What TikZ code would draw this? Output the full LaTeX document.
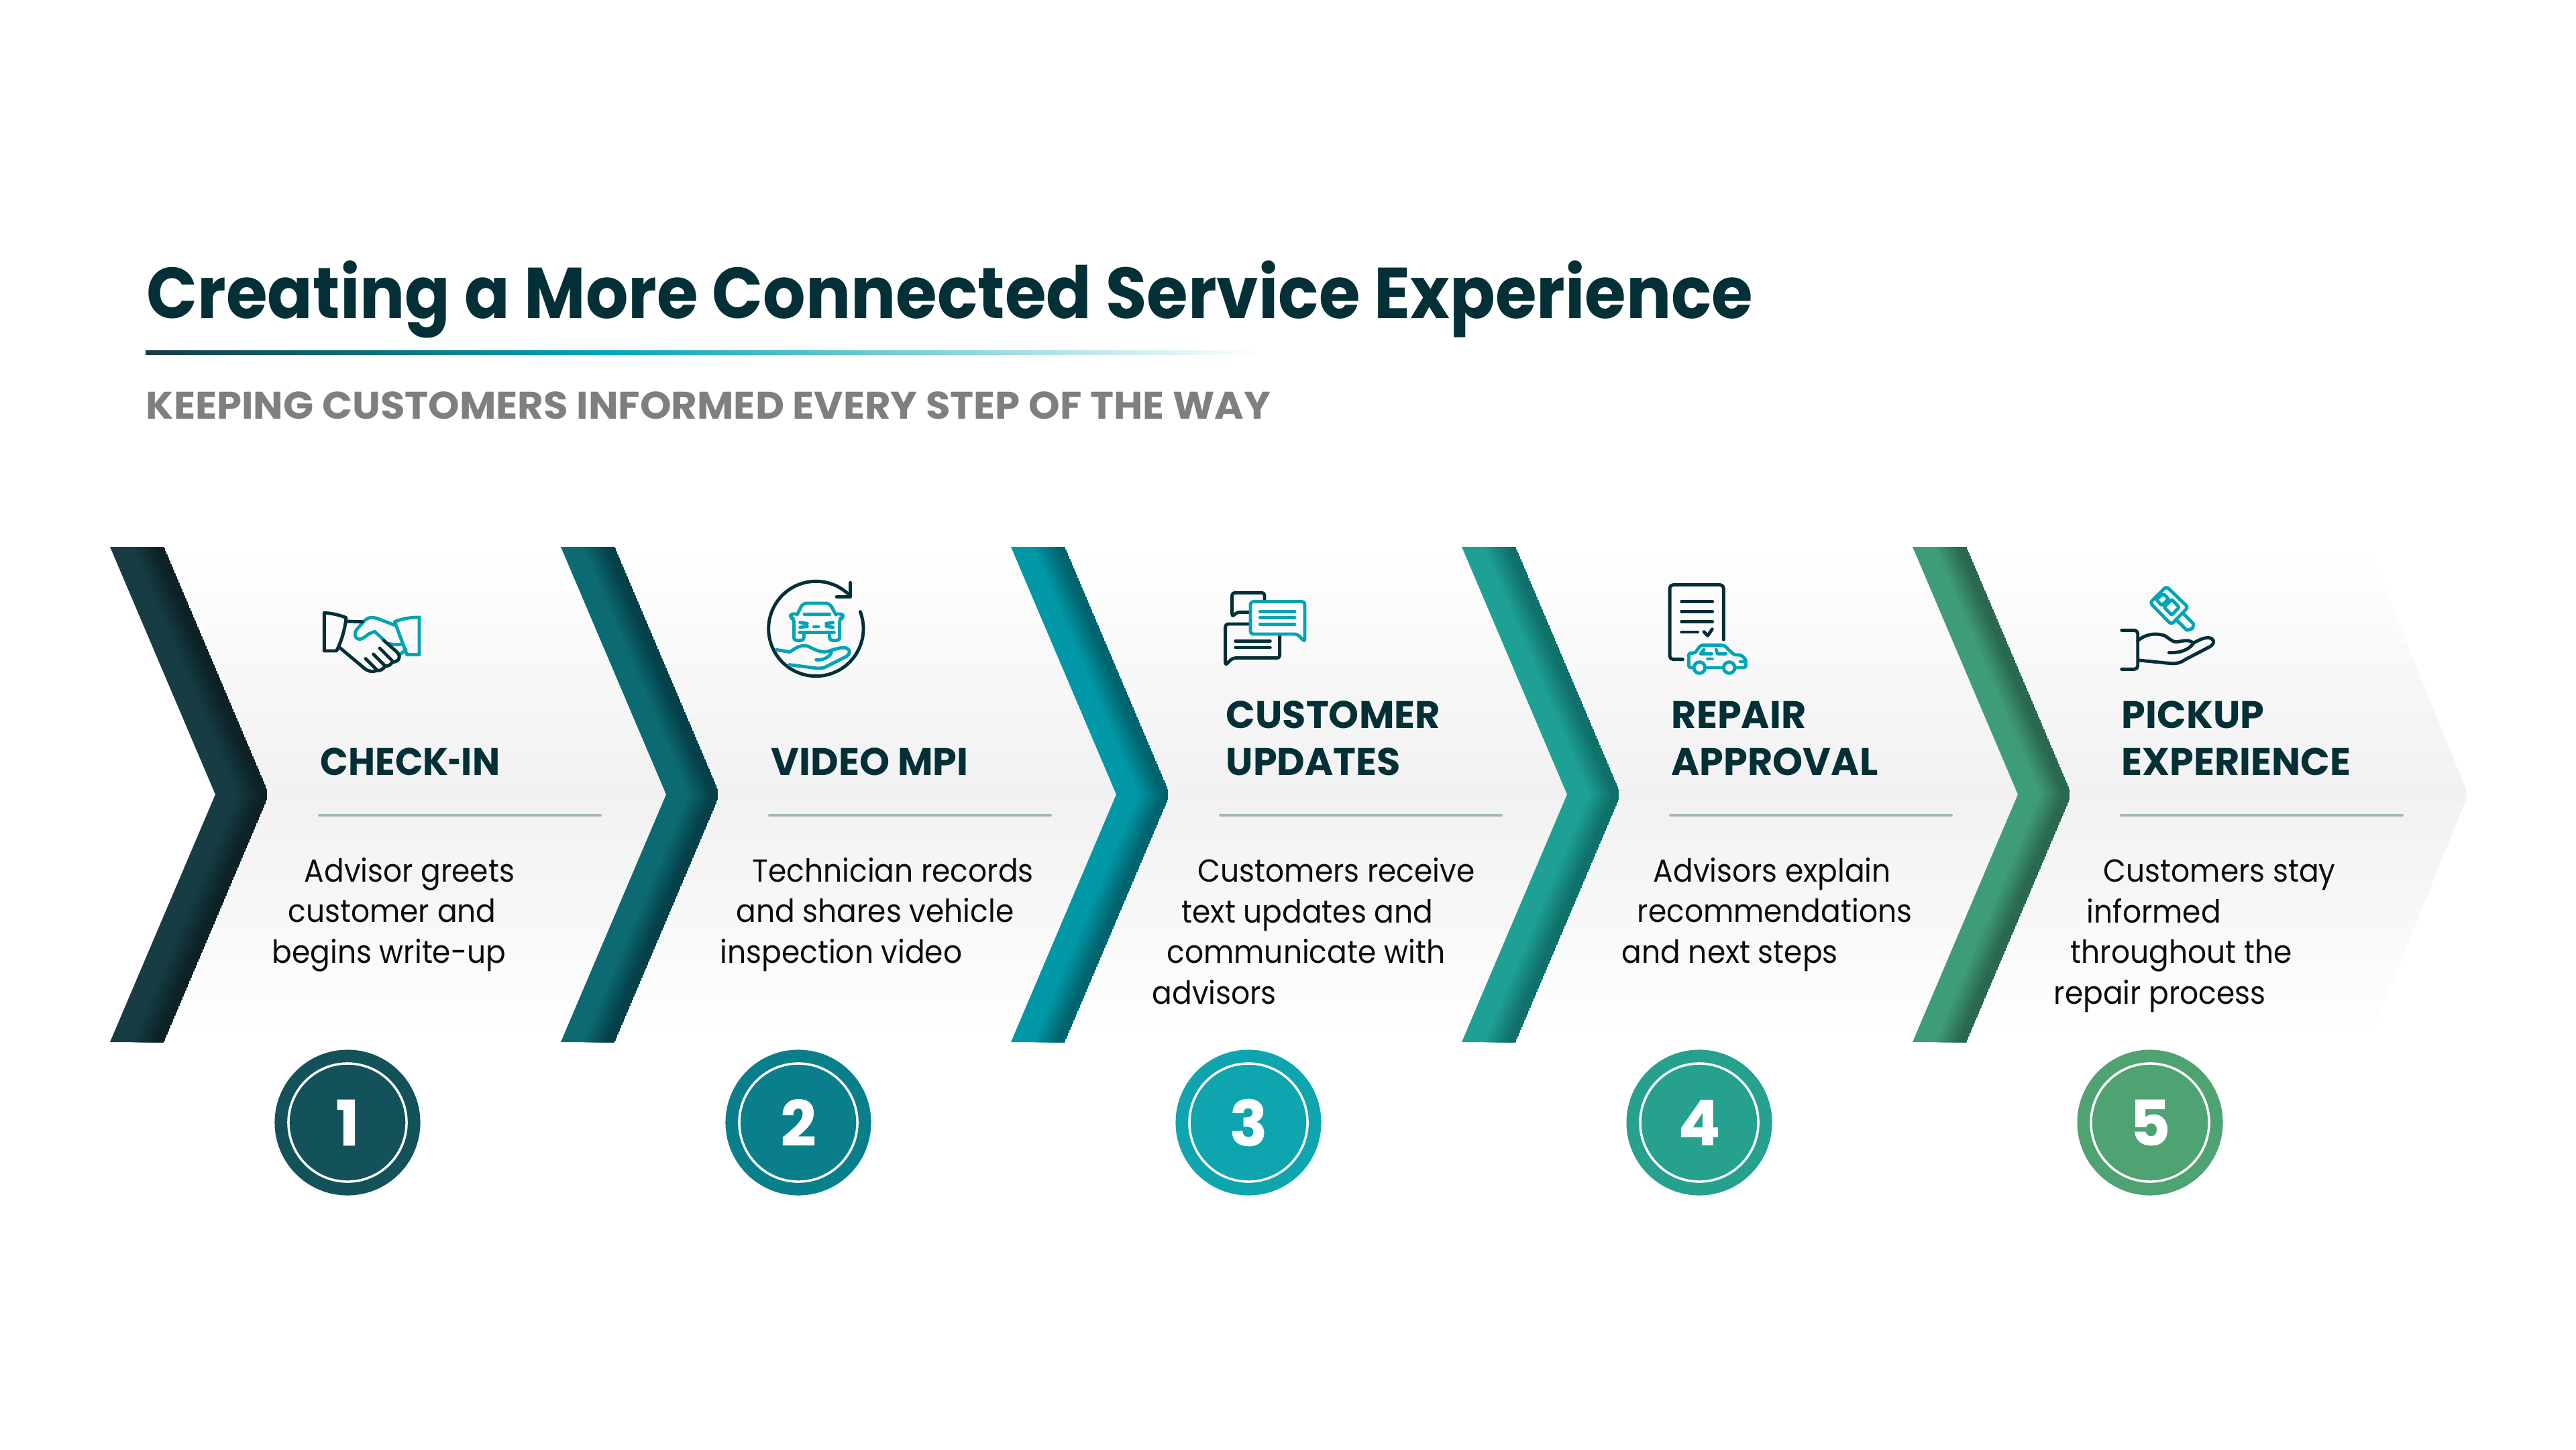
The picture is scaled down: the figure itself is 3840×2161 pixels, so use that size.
\documentclass[tikz,border=0pt]{standalone}
\usepackage{fontspec}
\setmainfont{Poppins}
\newfontfamily\titlefont[FakeStretch=0.93]{Poppins}
\newfontfamily\subfont[FakeStretch=1.035]{Poppins}
\newfontfamily\bodyfont[FakeStretch=0.925]{Poppins}
\newfontfamily\checkfont[FakeStretch=0.955]{Poppins}
\newfontfamily\digitfont[BoldFeatures={FakeBold=0.6}]{Poppins}
\definecolor{ink}{HTML}{032F36}
\definecolor{teal}{HTML}{00A5B5}
\definecolor{rulec}{HTML}{A3B7B7}
\definecolor{subc}{HTML}{7F7F7F}
\definecolor{c1a}{HTML}{173C44}\definecolor{c1c}{HTML}{0C2226}
\definecolor{c2a}{HTML}{0B6A72}\definecolor{c2c}{HTML}{064048}
\definecolor{c3a}{HTML}{0097A7}\definecolor{c3c}{HTML}{00646E}
\definecolor{c4a}{HTML}{1EA094}\definecolor{c4c}{HTML}{10706A}
\definecolor{c5a}{HTML}{3F9C78}\definecolor{c5c}{HTML}{2A6850}
\definecolor{n1}{HTML}{13525A}\definecolor{n2}{HTML}{0A7F8C}\definecolor{n3}{HTML}{0FA5AE}
\definecolor{n4}{HTML}{25A18E}\definecolor{n5}{HTML}{4FA272}
\newcommand{\chev}[3]{%
 \begin{scope}
 \clip (#1,815) -- ({#1+80},815) [rounded corners=0.14cm] -- ({#1+237},1184) [sharp corners] -- ({#1+80},1553) -- (#1,1553) [rounded corners=0.14cm] -- ({#1+157},1184) [sharp corners] -- cycle;
 \fill[#2] (#1,815) -- ({#1+80},815) -- ({#1+237},1184) -- ({#1+80},1553) -- (#1,1553) -- ({#1+157},1184) -- cycle;
 \foreach \k in {16,...,39}{
  \pgfmathsetmacro\off{\k*2}
  \pgfmathsetmacro\pb{min((\k-16)/18,1)*100}
  \colorlet{tmpc}{#3!\pb!#2}
  \fill[tmpc] ({#1+\off},815) -- ({#1+80},815) -- ({#1+237},1184) -- ({#1+157+\off},1184) -- cycle;
  \fill[tmpc] ({#1+\off},1553) -- ({#1+80},1553) -- ({#1+237},1184) -- ({#1+157+\off},1184) -- cycle;
 }
 \end{scope}}
\tikzset{
 head/.style={anchor=base west,inner sep=0pt,align=left,text=ink,font=\fontsize{16.3}{19.9}\selectfont\bfseries},
 body/.style={anchor=base west,inner sep=0pt,align=left,text=black!95,font=\bodyfont\fontsize{13.5}{17.2}\selectfont},
 numc/.style={circle,inner sep=0pt,minimum size=2.17cm,text=white,font=\digitfont\fontsize{26.5}{30}\selectfont\bfseries},
 ring/.style={circle,draw=white,line width=1pt,inner sep=0pt,minimum size=1.76cm},
 stepline/.style={draw=rulec,line width=1.1pt,line cap=round},
 dk/.style={draw=ink,line width=1.4pt,line cap=round,line join=round},
 tl/.style={draw=teal,line width=1.4pt,line cap=round,line join=round},
 iconscale/.style={scale=0.33333}
}
\newcommand{\ind}[1]{\hspace*{#1cm}}
\begin{document}
\begin{tikzpicture}[x=0.01cm,y=-0.01cm]
\useasboundingbox[fill=white] (0,0) rectangle (3840,2161);
% background arrow
\shade[top color=white,bottom color=white,middle color=black!5.5,rounded corners=0.1cm]
 (200,815) -- (3530,815) -- (3679,1184) -- (3530,1553) -- (200,1553) -- (323,1184) -- cycle;
% chevrons
\chev{164}{c1a}{c1c}
\chev{836}{c2a}{c2c}
\chev{1507}{c3a}{c3c}
\chev{2179}{c4a}{c4c}
\chev{2851}{c5a}{c5c}
% title
\node[anchor=base west,inner sep=0pt,text=ink,font=\titlefont\fontsize{30.5}{36}\selectfont\bfseries] (title) at (218,474) {Creating a More Connected Service Experience};
\shade[left color=c1a,right color=teal] (217,522) rectangle (892,528);
\shade[left color=teal,right color=white] (892,522) rectangle (1880,528);
\node[anchor=base west,inner sep=0pt,text=subc,font=\subfont\fontsize{16.3}{20}\selectfont\bfseries] (subtitle) at (217,624) {KEEPING CUSTOMERS INFORMED EVERY STEP OF THE WAY};
% headings
\node[head] (h1) at (477,1155) {\checkfont\bfseries CHECK\scalebox{0.6}[1]{-}IN};
\node[head] (h2) at (1149,1155) {VIDEO MPI};
\node[head] (h3) at (1827,1155) {CUSTOMER\\UPDATES};
\node[head] (h4) at (2491,1155) {REPAIR\\APPROVAL};
\node[head] (h5) at (3162,1155) {PICKUP\\EXPERIENCE};
% rules
\coordinate (r1a) at (476,1215);\coordinate (r1b) at (895,1215);
\coordinate (r2a) at (1147,1215);\coordinate (r2b) at (1566,1215);
\coordinate (r3a) at (1819,1215);\coordinate (r3b) at (2238,1215);
\coordinate (r4a) at (2490,1215);\coordinate (r4b) at (2909,1215);
\coordinate (r5a) at (3162,1215);\coordinate (r5b) at (3581,1215);
\foreach \i in {1,...,5}{\draw[stepline] (r\i a) -- (r\i b);}
% body
\node[body] (b1) at (405,1435) {\ind{0.48}Advisor greets\\\ind{0.24}customer and\\begins write-up};
\node[body] (b2) at (1073,1435) {\ind{0.48}Technician records\\\ind{0.24}and shares vehicle\\inspection video};
\node[body] (b3) at (1717,1496) {\ind{0.68}Customers receive\\\ind{0.44}text updates and\\\ind{0.22}communicate with\\advisors};
\node[body] (b4) at (2417,1435) {\ind{0.47}Advisors explain\\\ind{0.23}recommendations\\and next steps};
\node[body] (b5) at (3061,1496) {\ind{0.74}Customers stay\\\ind{0.49}informed\\\ind{0.25}throughout the\\repair process};
% numbers
\foreach \i/\x in {1/518,2/1190,3/1861,4/2533,5/3205}{
 \node[numc,fill=n\i] (n\i) at (\x,1673) {\raisebox{-0.04cm}{\i}};
 \node[ring] (ring\i) at (n\i) {};
}
% icon 1 handshake
\begin{scope}[shift={(440,860)},iconscale]
\draw[tl] (445,215) -- (380,190) .. controls (345,175) and (325,180) .. (310,195) -- (275,235) .. controls (258,262) and (275,285) .. (300,275) -- (320,262) .. controls (330,250) and (345,250) .. (355,243) -- (395,280);
\draw[tl] (420,298) .. controls (440,303) and (460,303) .. (480,300);
\draw[tl] (470,345) -- (495,325);
\draw[tl] (445,200) .. controls (480,185) and (520,180) .. (555,180) -- (555,347) -- (500,347) -- cycle;
\draw[dk] (130,160) -- (130,330) -- (185,330) .. controls (205,290) and (222,240) .. (228,182) .. controls (200,170) and (165,162) .. (130,160) -- cycle;
\draw[dk] (228,198) -- (300,200);
\draw[dk] (195,312) -- (300,400) .. controls (320,420) and (345,428) .. (365,418);
\draw[dk] (395,282) -- (455,335) .. controls (475,355) and (465,378) .. (438,380);
\draw[dk] (435,378) .. controls (430,392) and (415,400) .. (402,398);
\draw[dk] (402,398) .. controls (395,412) and (380,420) .. (365,418);
\draw[dk] (378,318) -- (435,375);
\draw[dk] (350,345) -- (400,395);
\draw[dk] (315,365) -- (365,415);
\end{scope}
% icon 2 video
\begin{scope}[shift={(1120,850)},iconscale]
\draw[dk] (487,185) arc (-21:315.6:212);
\draw[dk] (442,55) -- (442,118) -- (382,118);
\draw[tl,rounded corners=0.06cm] (205,198) -- (230,147) -- (350,147) -- (378,198);
\draw[tl,rounded corners=0.04cm] (205,195) -- (175,195) -- (175,213) -- (190,215) -- (190,313) -- (235,313) -- (235,280);
\draw[tl,rounded corners=0.04cm] (378,195) -- (410,195) -- (410,213) -- (395,215) -- (395,313) -- (350,313) -- (350,280);
\draw[tl] (237,197) -- (350,197);
\draw[tl] (215,278) -- (370,278);
\draw[tl] (218,233) -- (250,238);
\draw[tl] (218,255) -- (250,250);
\draw[tl] (365,233) -- (335,238);
\draw[tl] (365,255) -- (335,250);
\draw[tl] (280,252) -- (300,252);
\draw[tl] (112,355) -- (172,365) .. controls (200,345) and (225,330) .. (255,340) .. controls (285,355) and (320,375) .. (355,358) .. controls (385,350) and (410,340) .. (430,350) .. controls (445,362) and (440,375) .. (425,385) -- (340,428) .. controls (325,438) and (310,438) .. (295,438) -- (170,422);
\draw[tl] (290,400) .. controls (320,402) and (345,392) .. (358,368);
\end{scope}
% icon 3 chat
\begin{scope}[shift={(1810,870)},iconscale]
\draw[dk,rounded corners=0.04cm] (225,80) -- (225,40) -- (80,40) -- (80,148) -- (102,127) -- (162,127);
\draw[dk,rounded corners=0.04cm] (155,180) -- (50,180) -- (50,365) -- (82,332) -- (293,332) -- (293,232);
\draw[dk] (95,256) -- (250,256);
\draw[dk] (95,285) -- (250,285);
\draw[tl,rounded corners=0.04cm] (162,80) -- (405,80) -- (405,260) -- (372,225) -- (162,225) -- cycle;
\draw[tl] (205,124) -- (360,124);
\draw[tl] (205,152) -- (360,152);
\draw[tl] (205,181) -- (360,181);
\end{scope}
% icon 4 document and car
\begin{scope}[shift={(2480,860)},iconscale]
\draw[dk,rounded corners=0.05cm] (268,280) -- (268,35) -- (27,35) -- (27,368) -- (85,368);
\draw[dk] (80,109) -- (218,109);
\draw[dk] (80,154) -- (218,154);
\draw[dk] (80,200) -- (218,200);
\draw[dk] (80,246) -- (152,246);
\draw[dk] (180,245) -- (197,262) -- (217,233);
\draw[tl,rounded corners=0.03cm] (132,405) -- (112,405) -- (112,340) -- (140,340) -- (165,305) -- (270,305) -- (315,348) -- (345,348) -- (367,368) -- (367,405) -- (318,405);
\draw[tl] (195,405) -- (268,405);
\draw[tl] (160,405) circle (25);
\draw[tl] (293,405) circle (25);
\draw[tl] (180,325) -- (165,343) -- (215,343);
\draw[tl] (235,325) -- (240,343) -- (278,343);
\draw[tl] (197,366) -- (217,366);
\draw[tl] (342,378) -- (367,378);
\end{scope}
% icon 5 key and hand
\begin{scope}[shift={(3160,860)},iconscale]
\draw[tl,rounded corners=0.04cm] (208,42) -- (305,135) -- (230,212) -- (135,115) -- cycle;
\draw[tl,rounded corners=0.02cm] (195,75) -- (218,98) -- (187,127) -- (163,100) -- cycle;
\draw[tl,rounded corners=0.02cm] (232,100) -- (265,135) -- (232,170) -- (198,135) -- cycle;
\draw[tl] (285,165) -- (330,210) -- (325,230) -- (300,238) -- (258,197);
\draw[dk,rounded corners=0.05cm] (8,238) -- (80,238) -- (80,412) -- (8,412);
\draw[dk] (80,285) .. controls (105,262) and (150,245) .. (200,262) .. controls (220,272) and (230,290) .. (255,290) .. controls (285,285) and (310,278) .. (328,295) .. controls (350,285) and (385,262) .. (410,275) .. controls (425,285) and (420,300) .. (405,310) -- (290,370) .. controls (270,385) and (250,388) .. (225,386) -- (85,372);
\draw[dk] (220,338) .. controls (265,340) and (305,328) .. (328,298);
\end{scope}
\end{tikzpicture}
\end{document}
